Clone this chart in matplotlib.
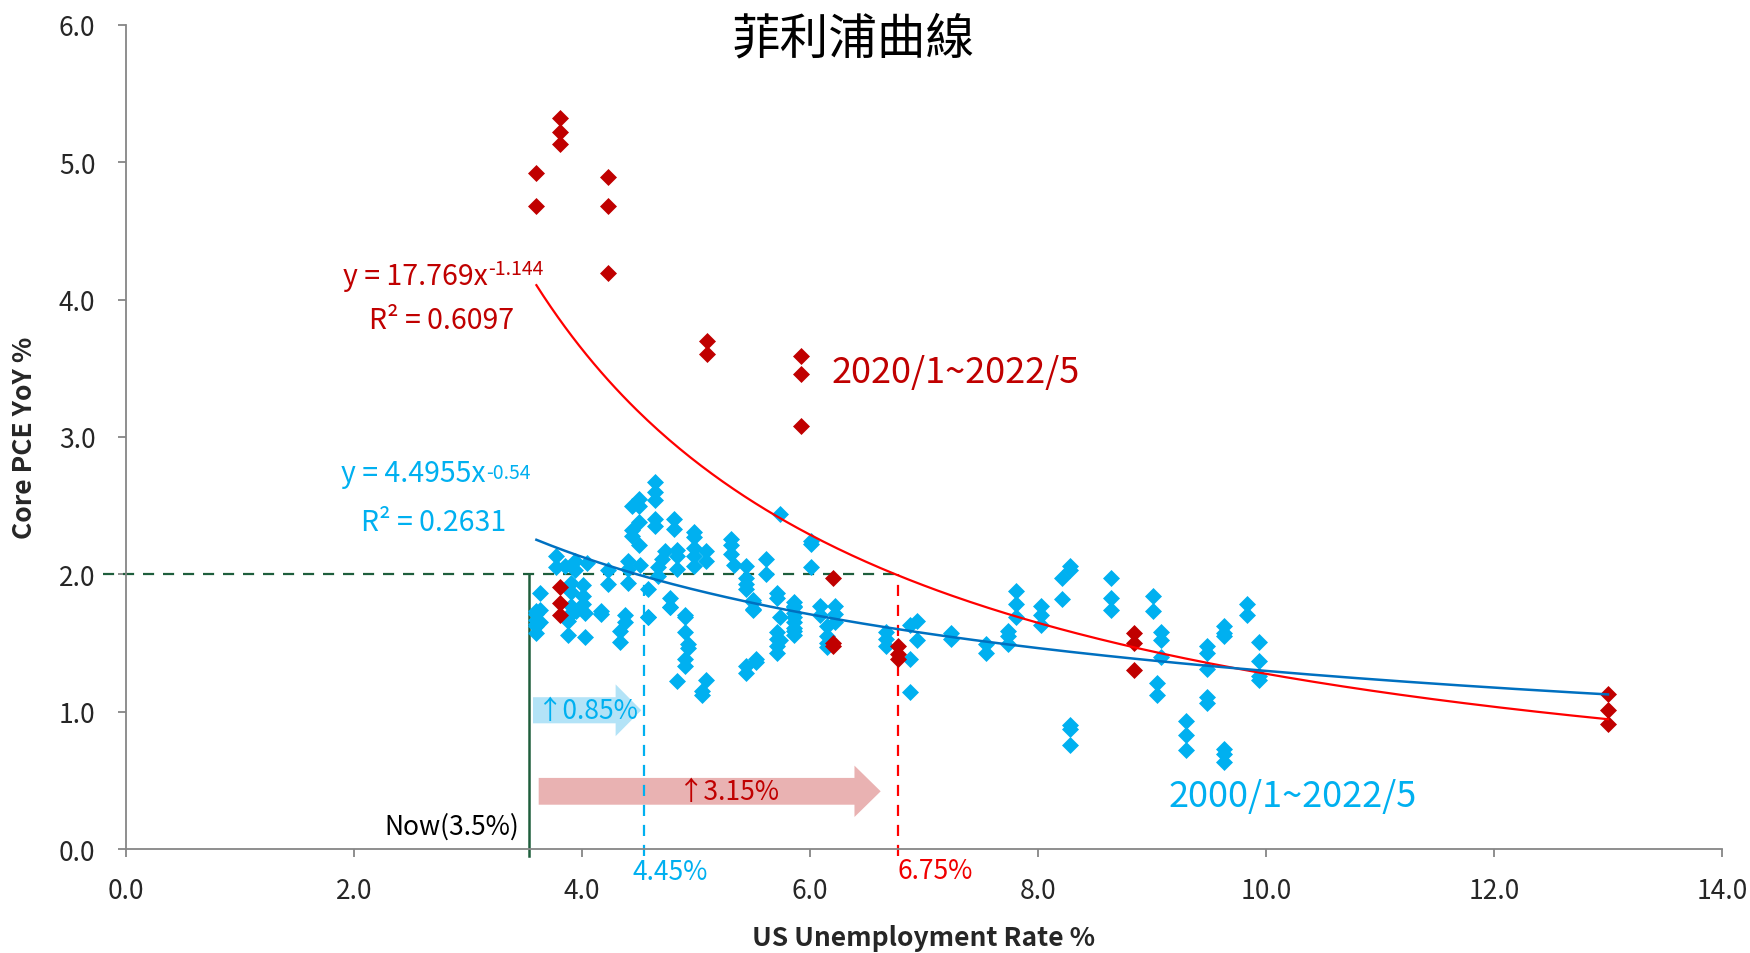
import matplotlib
matplotlib.use("Agg")
import matplotlib.pyplot as plt
from matplotlib.patches import FancyArrow
import numpy as np

plt.rcParams['font.family'] = ['Noto Sans CJK TC', 'DejaVu Sans']

# 2020/1~2022/5 (紅點)
red_x = [3.60, 3.60, 3.81, 3.81, 3.81, 4.23, 4.23, 4.23, 5.10, 5.10,
         5.92, 5.92, 5.92, 6.20, 6.20, 6.20, 6.77, 6.77, 6.77,
         8.84, 8.84, 8.84, 13.0, 13.0, 13.0, 3.81, 3.81, 3.81]
red_y = [4.92, 4.68, 5.32, 5.22, 5.13, 4.89, 4.68, 4.19, 3.70, 3.60,
         3.59, 3.46, 3.08, 1.97, 1.50, 1.48, 1.48, 1.42, 1.38,
         1.57, 1.50, 1.30, 1.13, 1.01, 0.91, 1.91, 1.79, 1.70]

# 2000/1~2019 (藍點) 依失業率分欄
blue_cols = [3.60, 3.63, 3.77, 3.85, 3.88, 3.90, 3.94, 3.95, 4.01, 4.03,
             4.04, 4.17, 4.23, 4.33, 4.38, 4.40, 4.44, 4.50, 4.51, 4.58,
             4.64, 4.67, 4.70, 4.73, 4.77, 4.81, 4.83, 4.90, 4.93, 4.98,
             5.05, 5.09, 5.31, 5.33, 5.44, 5.50, 5.53, 5.61, 5.71, 5.74,
             5.86, 6.01, 6.09, 6.15, 6.22, 6.67, 6.88, 6.94, 7.24, 7.54,
             7.74, 7.81, 8.03, 8.21, 8.28, 8.64, 9.01, 9.04, 9.08, 9.30,
             9.48, 9.63, 9.83, 9.94]
blue_vals = [
    [1.73, 1.71, 1.67, 1.64, 1.62, 1.57],
    [1.86, 1.74, 1.65],
    [2.13, 2.05],
    [2.06],
    [1.69, 1.56, 1.66],
    [1.94, 1.87, 1.77, 1.72],
    [2.10, 2.03],
    [1.73],
    [1.92, 1.84, 1.78],
    [1.72, 1.54],
    [2.08],
    [1.71, 1.73],
    [2.03, 1.93],
    [1.59, 1.51],
    [1.70, 1.65],
    [2.10, 2.04, 1.94],
    [2.50, 2.32, 2.28],
    [2.55, 2.50, 2.38, 2.21],
    [2.07],
    [1.89, 1.69, 1.69],
    [2.67, 2.60, 2.54, 2.40, 2.35],
    [2.05, 1.99],
    [2.11],
    [2.17],
    [1.83, 1.76, 1.76],
    [2.40, 2.33],
    [2.18, 2.13, 2.04, 1.22],
    [1.70, 1.69, 1.58, 1.38, 1.33],
    [1.49, 1.46],
    [2.31, 2.27, 2.19, 2.13, 2.06],
    [1.15, 1.12],
    [2.17, 2.10, 1.23],
    [2.26, 2.21, 2.15],
    [2.07],
    [2.06, 1.97, 1.93, 1.89, 1.33, 1.28],
    [1.81, 1.74, 1.80, 1.75],
    [1.38, 1.36],
    [2.11, 2.00],
    [1.86, 1.83, 1.58, 1.53, 1.48, 1.43],
    [2.44, 1.69, 1.52],
    [1.80, 1.77, 1.72, 1.65, 1.59, 1.56, 1.76, 1.69, 1.61],
    [2.24, 2.22, 2.05],
    [1.77, 1.70],
    [1.62, 1.55, 1.47, 1.50],
    [1.77, 1.71, 1.65],
    [1.58, 1.53, 1.48],
    [1.63, 1.38, 1.14],
    [1.66, 1.52],
    [1.57, 1.53],
    [1.49, 1.43],
    [1.59, 1.55, 1.49],
    [1.88, 1.78, 1.69],
    [1.77, 1.70, 1.63],
    [1.97, 1.82],
    [2.06, 2.03, 0.90, 0.87, 0.76],
    [1.97, 1.83, 1.74],
    [1.84, 1.73],
    [1.21, 1.12],
    [1.58, 1.52, 1.40],
    [0.93, 0.83, 0.72],
    [1.48, 1.43, 1.31, 1.11, 1.06],
    [1.62, 1.57, 1.55, 0.73, 0.69, 0.63],
    [1.78, 1.70],
    [1.51, 1.37, 1.26, 1.23],
]
blue_x = [c for c, v in zip(blue_cols, blue_vals) for _ in v]
blue_y = [y for v in blue_vals for y in v]

# 趨勢線參數
red_a, red_b = 17.769, -1.144
blue_a, blue_b = 4.4955, -0.54

now_rate = 3.535
blue_mark = 4.54
red_mark = 6.77
target_pce = 2.0

fig = plt.figure(figsize=(17.5, 9.54), dpi=100)
ax = fig.add_axes([0.072, 0.109, 0.912, 0.864])

ax.scatter(blue_x, blue_y, marker='D', s=75, color='#00B0F0', zorder=3, linewidths=0)
ax.scatter(red_x, red_y, marker='D', s=75, color='#C00000', zorder=4, linewidths=0)

xx = np.linspace(3.6, 13.0, 300)
ax.plot(xx, red_a * xx ** red_b, color='#FF0000', lw=1.6, zorder=5)
ax.plot(xx, blue_a * xx ** blue_b, color='#0070C0', lw=1.8, zorder=5)

# 參考線
ax.plot([-0.2, red_mark], [target_pce, target_pce], color='#1E5E3C', lw=1.6,
        ls=(0, (5, 4)), clip_on=False, zorder=2)
ax.plot([now_rate, now_rate], [-0.05, target_pce], color='#1E5E3C', lw=1.8,
        clip_on=False, zorder=2)
ax.plot([blue_mark, blue_mark], [-0.05, target_pce], color='#00B0F0', lw=1.6,
        ls=(0, (5, 4)), clip_on=False, zorder=2)
ax.plot([red_mark, red_mark], [-0.05, target_pce], color='#FF0000', lw=1.6,
        ls=(0, (5, 4)), clip_on=False, zorder=2)

# 箭頭
ax.add_patch(FancyArrow(3.57, 1.01, 4.52 - 3.57, 0, width=0.19, head_width=0.377,
                        head_length=0.225, length_includes_head=True,
                        color='#B3E3F7', lw=0, zorder=1))
ax.add_patch(FancyArrow(3.62, 0.42, 6.62 - 3.62, 0, width=0.195, head_width=0.374,
                        head_length=0.23, length_includes_head=True,
                        color='#E9B2B2', lw=0, zorder=1))
ax.text(4.05, 1.01, '↑0.85%', color='#00B0F0', fontsize=19, ha='center', va='center', zorder=6)
ax.text(5.29, 0.42, '↑3.15%', color='#C00000', fontsize=19, ha='center', va='center', zorder=6)

# 方程式
ax.text(3.175, 4.115, 'y = 17.769x', color='#C00000', fontsize=20.5, ha='right', va='baseline')
ax.text(3.18, 4.30, '-1.144', color='#C00000', fontsize=14, ha='left', va='top')
ax.text(2.77, 3.79, 'R² = 0.6097', color='#C00000', fontsize=20.5, ha='center', va='baseline')
ax.text(3.15, 2.68, 'y = 4.4955x', color='#00B0F0', fontsize=20.5, ha='right', va='baseline')
ax.text(3.155, 2.82, '-0.54', color='#00B0F0', fontsize=14, ha='left', va='top')
ax.text(2.70, 2.32, 'R² = 0.2631', color='#00B0F0', fontsize=20.5, ha='center', va='baseline')

ax.text(7.28, 3.475, '2020/1~2022/5', color='#C00000', fontsize=26, ha='center', va='center')
ax.text(10.23, 0.387, '2000/1~2022/5', color='#00B0F0', fontsize=26, ha='center', va='center')
ax.text(3.45, 0.11, 'Now(3.5%)', color='black', fontsize=19, ha='right', va='baseline')
ax.text(4.77, -0.165, '4.45%', color='#00B0F0', fontsize=19, ha='center', va='center', clip_on=False)
ax.text(7.10, -0.157, '6.75%', color='#F00000', fontsize=19, ha='center', va='center', clip_on=False)

ax.text(6.38, 5.90, '菲利浦曲線', fontsize=35, ha='center', va='center')

ax.set_xlim(0, 14)
ax.set_ylim(0, 6)
ax.set_xticks(np.arange(0, 15, 2))
ax.set_yticks(np.arange(0, 7, 1))
ax.set_xticklabels([f'{v:.1f}' for v in np.arange(0, 15, 2)])
ax.set_yticklabels([f'{v:.1f}' for v in np.arange(0, 7, 1)])
for s in ['top', 'right']:
    ax.spines[s].set_visible(False)
for s in ['left', 'bottom']:
    ax.spines[s].set_color('#868686')
    ax.spines[s].set_linewidth(1.3)
ax.tick_params(axis='both', colors='#868686', length=6, width=1.3, labelsize=19,
               labelcolor='#262626')
ax.tick_params(axis='x', pad=14)
ax.tick_params(axis='y', pad=16)

fig.text(25 / 1750, 1 - 437.5 / 954, 'Core PCE YoY %', rotation=90, fontsize=19,
         fontweight='bold', ha='center', va='center', color='#262626')
fig.text(0.528, 1 - 939 / 954, 'US Unemployment Rate %', fontsize=19,
         fontweight='bold', ha='center', va='center', color='#262626')

fig.savefig('out.png', dpi=100)
